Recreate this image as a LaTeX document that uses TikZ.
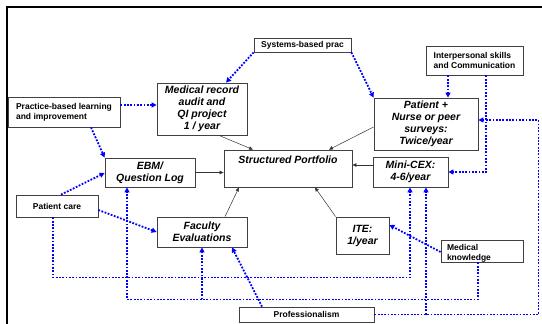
\documentclass[tikz,border=0pt]{standalone}
\usepackage{fontspec}
\setmainfont{Liberation Sans}
\usetikzlibrary{arrows.meta,calc}
\begin{document}
\begin{tikzpicture}[x=1pt,y=-1pt,
  box/.style={draw=black!75,line width=0.8pt,fill=white,inner sep=0pt,align=center},
  plan/.style={box,font=\fontsize{10.5}{12}\selectfont\bfseries\itshape},
  tag/.style={box,font=\fontsize{8.5}{10}\selectfont\bfseries},
  flow/.style={draw=blue,line width=1.8pt,dash pattern=on 1.8pt off 1.5pt,
    -{Triangle[length=5pt,width=5pt]}},
  link/.style={draw=black!80,line width=0.5pt,-{Triangle[length=4pt,width=3.5pt]}}]

\useasboundingbox (0,0) rectangle (542,324);
\begin{scope}
  \clip (0,0) rectangle (542,324);
  \draw[line width=2pt] (7,7) rectangle (560,340);
\end{scope}

% competencies
\node[tag,minimum width=97pt,minimum height=14pt] (sys) at (302.5,45) {Systems-based prac};
\node[tag,align=left,minimum width=97pt,minimum height=29pt] (inter) at (474.5,60.5) {Interpersonal skills\\and Communication};
\node[tag,align=left,minimum width=112pt,minimum height=30pt] (pbl) at (64,112) {Practice-based learning\\and improvement};
\node[tag,minimum width=82pt,minimum height=22pt] (pc) at (57,206) {Patient care};
\node[tag,align=left,text width=70pt,minimum width=82pt,text height=10pt,text depth=12pt] (mk) at (482,251) {Medical\\knowledge};
\node[tag,minimum width=135pt,minimum height=15pt] (prof) at (306.5,314.5) {Professionalism};

% assessment tools
\node[plan,minimum width=90pt,minimum height=52pt] (med) at (202,109) {Medical record\\audit and\\QI project\\1 / year};
\node[plan,minimum width=104pt,minimum height=52pt] (pat) at (426,124) {Patient +\\Nurse or peer\\surveys:\\Twice/year};
\node[plan,minimum width=128pt,text height=13pt,text depth=24pt] (sp) at (288,168.5) {Structured Portfolio};
\node[plan,minimum width=90pt,minimum height=29pt] (ebm) at (150,172.5) {EBM/\\Question Log};
\node[plan,minimum width=75pt,minimum height=30pt] (mini) at (410.5,172) {Mini-CEX:\\4-6/year};
\node[plan,minimum width=90pt,minimum height=30pt] (fac) at (202,232) {Faculty\\Evaluations};
\node[plan,minimum width=53pt,minimum height=37pt] (ite) at (362.5,235.5) {ITE:\\1/year};

% tools feeding the portfolio
\draw[link] ([xshift=17pt]med.south) -- ([xshift=-35pt]sp.north);
\draw[link] ([yshift=-3pt]pat.west) -- ([xshift=41pt]sp.north);
\draw[link] (ebm.east) -- (ebm.east -| sp.west);
\coordinate (m1) at ([yshift=7pt]mini.west);
\draw[link] (m1) -- (m1 -| sp.east);
\draw[link] ([xshift=23pt]fac.north) -- ([xshift=-49pt]sp.south);
\draw[link] (ite.north west) -- ([xshift=27pt]sp.south);

% competencies assessed by each tool
\draw[flow] (sys.south west) -- ([xshift=24pt]med.north);
\draw[flow] (sys.south east) -- (pat.north west);
\draw[flow] ([xshift=-26.5pt]inter.south) -- ([xshift=22pt]pat.north);
\draw[flow] ([xshift=11.5pt]inter.south) |- (mini.east);
\draw[flow] (prof.east) -- ++(164,0) |- ([yshift=4pt]pat.east);
\coordinate (mxA) at ([xshift=-0.5pt]mini.south);
\coordinate (mxB) at ([xshift=15.5pt]mini.south);
\draw[flow] (prof.east -| mxB) -- (mxB);
\draw[flow] ([xshift=-4pt]pc.south) -- ++(0,60) -| (mxA);
\draw[flow] ([xshift=-4pt]mk.south) -- ++(0,37) coordinate (mkb) -| ([xshift=-23pt]ebm.south);
\draw[flow] (fac.south |- mkb) -- (fac.south);
\draw[flow] ([yshift=-1pt]mk.west) -- ([yshift=10.5pt]ite.east);
\draw[flow] ([xshift=-44.5pt]prof.north) -- ([xshift=30pt]fac.south);
\coordinate (p1) at ([yshift=7pt]pbl.east);
\draw[flow] (p1) -- (p1 -| med.west);
\draw[flow] ([xshift=27pt]pbl.south) -- (ebm.north west);
\draw[flow] ([xshift=4pt]pc.north) -- ([yshift=-0.5pt]ebm.west);
\draw[flow] ([yshift=-4pt]pc.east) -- (fac.west);
\end{tikzpicture}
\end{document}
